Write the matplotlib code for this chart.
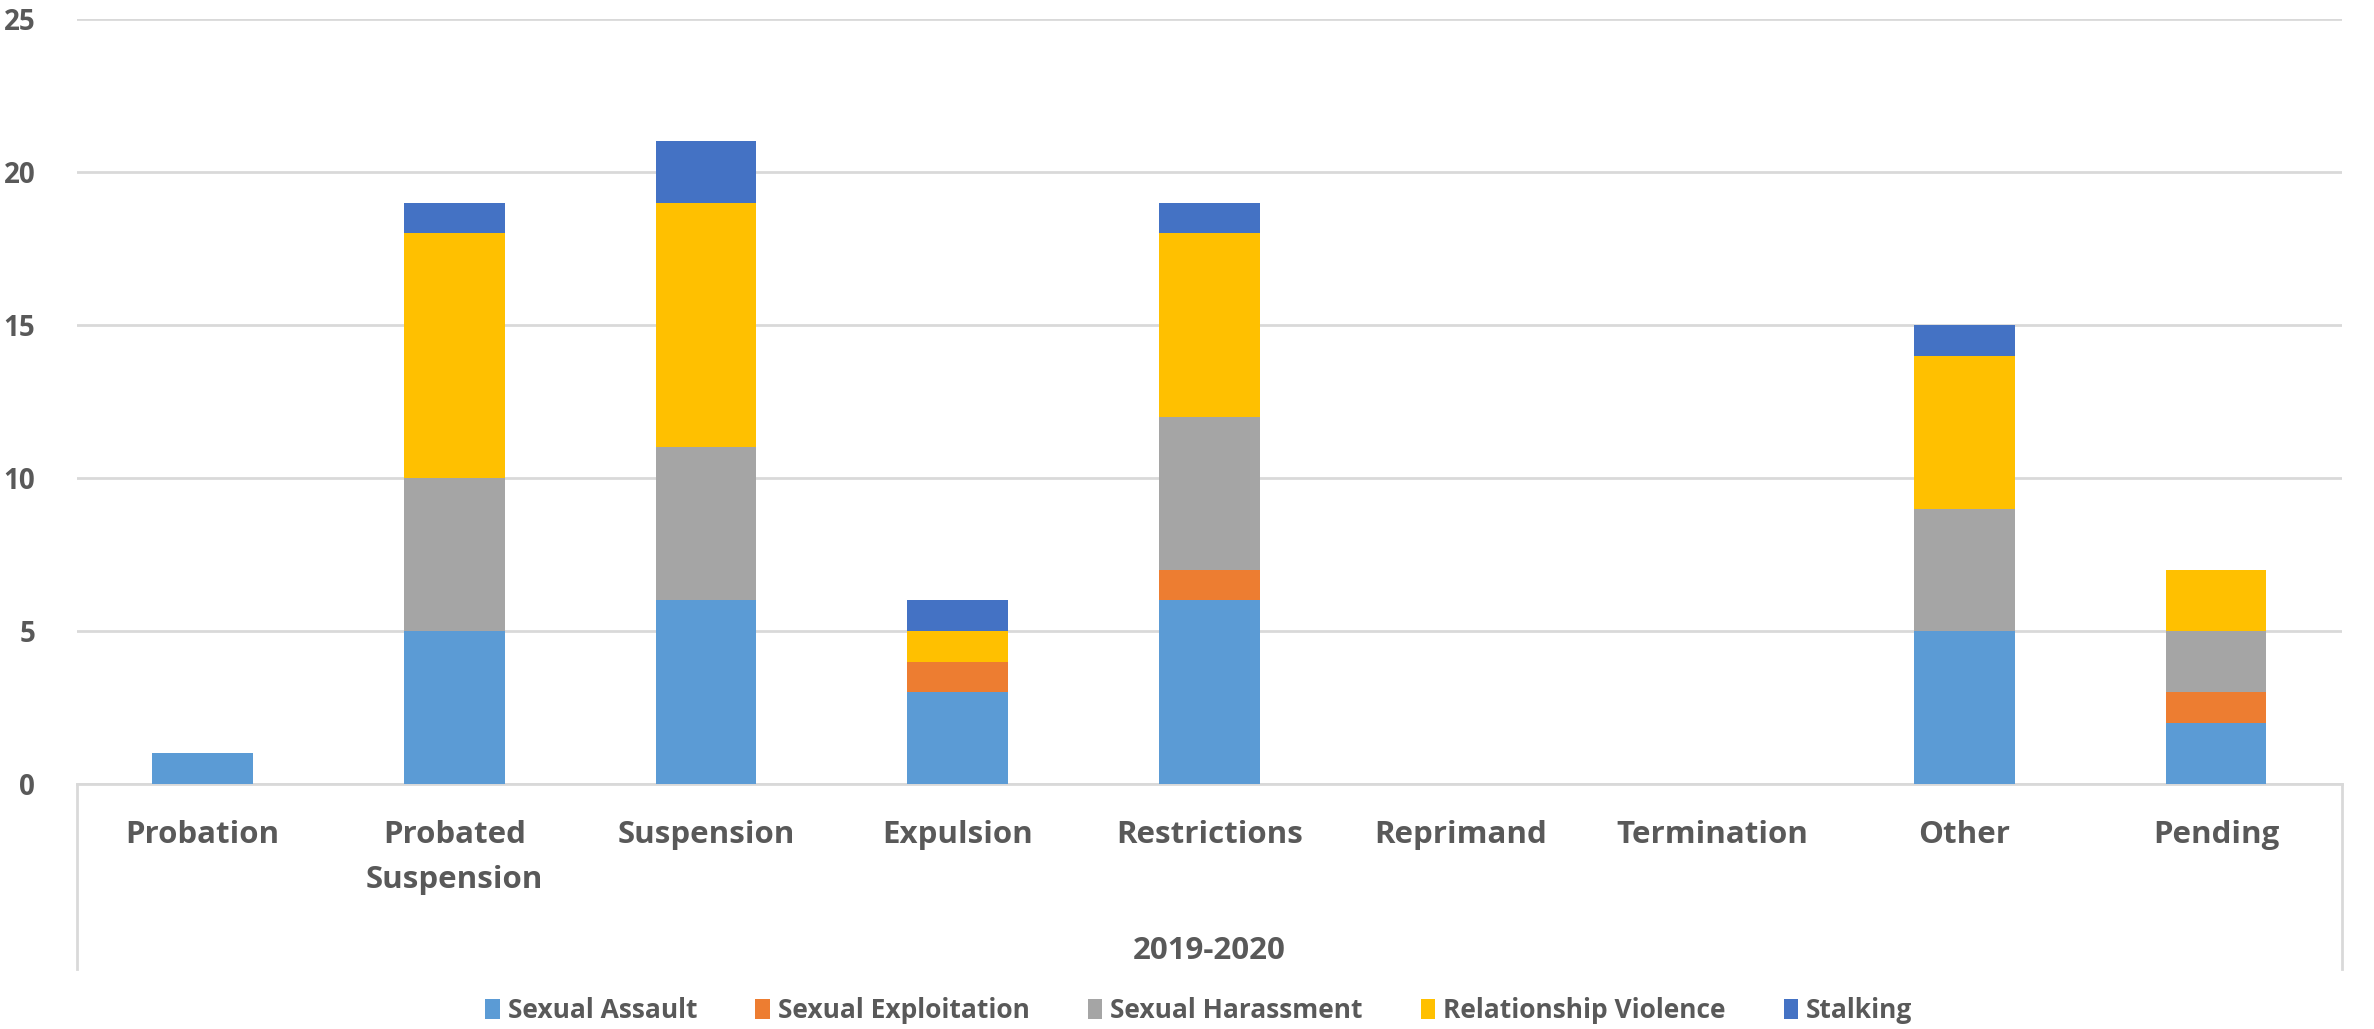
import matplotlib.pyplot as plt
import numpy as np
from matplotlib.lines import Line2D

plt.rcParams['font.family'] = ['Open Sans', 'DejaVu Sans']

categories = ['Probation', 'Probated\nSuspension', 'Suspension', 'Expulsion', 'Restrictions',
              'Reprimand', 'Termination', 'Other', 'Pending']
series = ['Sexual Assault', 'Sexual Exploitation', 'Sexual Harassment', 'Relationship Violence', 'Stalking']
sexual_assault = [1, 5, 6, 3, 6, 0, 0, 5, 2]
sexual_exploitation = [0, 0, 0, 1, 1, 0, 0, 0, 1]
sexual_harassment = [0, 5, 5, 0, 5, 0, 0, 4, 2]
relationship_violence = [0, 8, 8, 1, 6, 0, 0, 5, 2]
stalking = [0, 1, 2, 1, 1, 0, 0, 1, 0]
group_label = '2019-2020'

colors = ['#5B9BD5', '#ED7D31', '#A5A5A5', '#FFC000', '#4472C4']
text_color = '#595959'
grid_color = '#D9D9D9'

fig = plt.figure(figsize=(23.74, 10.29), dpi=100)
ax = fig.add_axes([0.0324, 0.238, 0.954, 0.7435])

x = np.arange(len(categories))
bottom = np.zeros(len(categories))
for name, vals, c in zip(series, [sexual_assault, sexual_exploitation, sexual_harassment,
                                  relationship_violence, stalking], colors):
    vals = np.array(vals, dtype=float)
    ax.bar(x, vals, width=0.4, bottom=bottom, color=c, label=name, zorder=3)
    bottom += vals

ax.set_xlim(-0.5, len(categories) - 0.5)
ax.set_ylim(0, 25)
ax.set_yticks(range(0, 26, 5))
ax.grid(axis='y', color=grid_color, linewidth=2, zorder=0)
for s in ['top', 'right', 'left']:
    ax.spines[s].set_visible(False)
ax.spines['bottom'].set_color(grid_color)
ax.spines['bottom'].set_linewidth(2)
ax.tick_params(axis='y', length=0, pad=30, labelsize=20, labelcolor=text_color)
ax.tick_params(axis='x', length=0, pad=26, labelsize=22.5, labelcolor=text_color)
ax.set_xticks(x)
ax.set_xticklabels(categories, fontweight='bold', linespacing=1.65, va='top')
for lab in ax.get_yticklabels():
    lab.set_fontweight('bold')

# multi-level category axis: side lines and group label
for xv in [-0.5, len(categories) - 0.5]:
    ax.add_line(Line2D([xv, xv], [0, -6.05], color=grid_color, linewidth=2, clip_on=False))
ax.text((len(categories) - 1) / 2, -5.46, group_label, ha='center', va='center',
        fontsize=22.5, fontweight='bold', color=text_color)

leg = fig.legend(loc='center', ncol=5, frameon=False, bbox_to_anchor=(0.505, 0.0175),
                 fontsize=19, handlelength=0.55, handleheight=0.8, handletextpad=0.3,
                 columnspacing=2.2, borderpad=0)
for t in leg.get_texts():
    t.set_color(text_color)
    t.set_fontweight('bold')

fig.savefig('out.png', dpi=100)
